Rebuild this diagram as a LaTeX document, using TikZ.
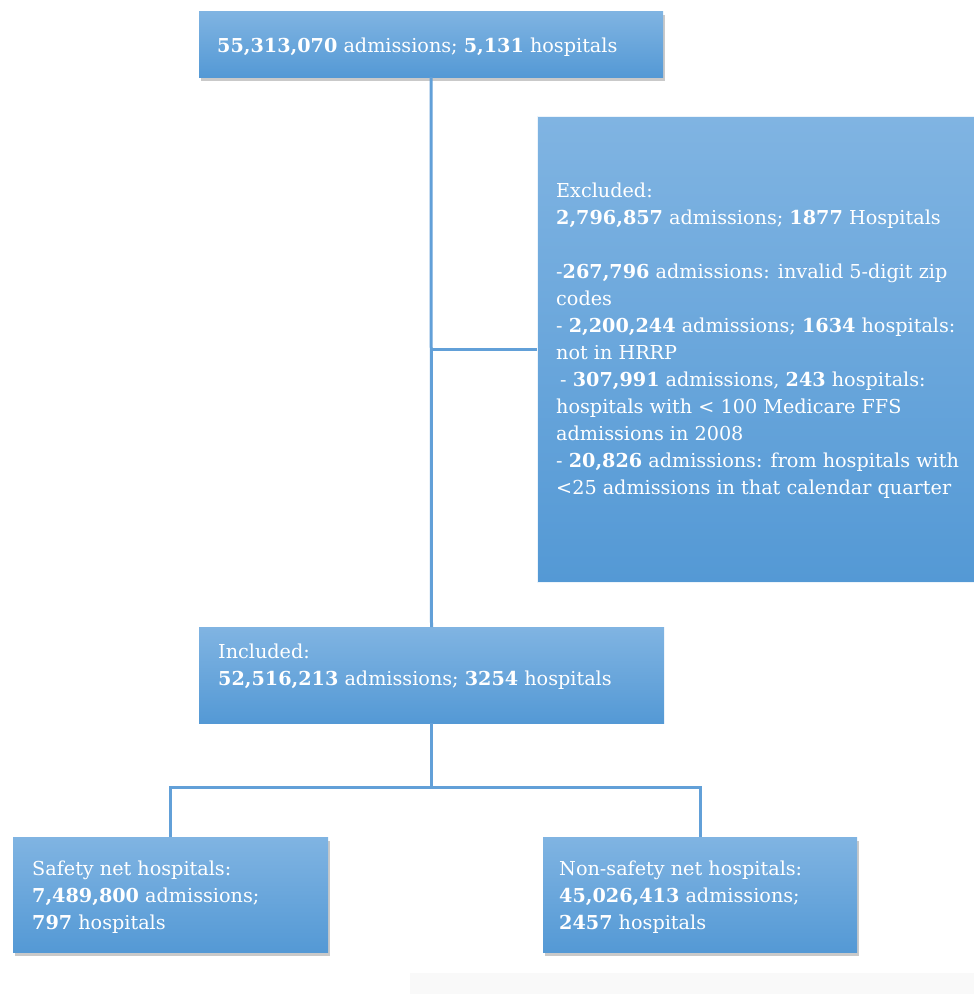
\documentclass[tikz,border=0pt]{standalone}
\usepackage{fontspec}
\setmainfont{DejaVu Serif}
\usetikzlibrary{shadows}
\definecolor{boxtop}{RGB}{128,180,226}
\definecolor{boxbot}{RGB}{84,153,213}
\definecolor{linec}{RGB}{98,160,216}
\begin{document}
\begin{tikzpicture}[x=1pt,y=-1pt,
  box/.style={draw=none, top color=boxtop, bottom color=boxbot, anchor=north west, inner sep=0pt, outer sep=0pt},
  shadowed/.style={drop shadow={shadow xshift=2pt, shadow yshift=-4pt, opacity=0.3, fill=black!70}},
  txt/.style={text=white, inner sep=0pt, anchor=base west, align=left, font=\fontsize{19.2}{27}\selectfont},
  conn/.style={draw=linec, line width=3pt}]
\useasboundingbox (0,0) rectangle (974,994);
\fill[gray!5] (410,973) rectangle (974,994);
% boxes
\node[box, shadowed, minimum width=464pt, minimum height=66pt] (top) at (199,11) {};
\node[box, minimum width=437pt, minimum height=466pt, draw=white!85!boxtop, line width=1pt] (exc) at (537,116) {};
\node[box, minimum width=465pt, minimum height=96pt] (inc) at (199,627) {};
\node[box, shadowed, minimum width=315pt, minimum height=115pt] (safe) at (13,837) {};
\node[box, shadowed, minimum width=314pt, minimum height=115pt] (nons) at (543,837) {};
% connectors
\draw[conn] (top.south) -- (inc.north);
\draw[conn] (top.south |- exc.west) -- (exc.west);
\draw[conn] (safe.north) -- ++(0,-50) -| (nons.north);
\coordinate (junc) at (inc.south |- 0,787);
\draw[conn] (inc.south) -- (junc);
% texts (anchor = baseline of last line)
\node[txt] (toptxt) at (217,52) {\textbf{55,313,070} admissions; \textbf{5,131} hospitals};
\node[txt] (exctxt) at (556,494) {Excluded:\\
\textbf{2,796,857} admissions; \textbf{1877} Hospitals\\[27pt]
-\textbf{267,796} admissions: invalid 5-digit zip\\
codes\\
- \textbf{2,200,244} admissions; \textbf{1634} hospitals:\\
not in HRRP\\
\hspace{4pt}- \textbf{307,991} admissions, \textbf{243} hospitals:\\
hospitals with < 100 Medicare FFS\\
admissions in 2008\\
- \textbf{20,826} admissions: from hospitals with\\
<25 admissions in that calendar quarter};
\node[txt] (inctxt) at (218,685) {Included:\\
\textbf{52,516,213} admissions; \textbf{3254} hospitals};
\node[txt] (safetxt) at (32,929) {Safety net hospitals:\\
\textbf{7,489,800} admissions;\\
\textbf{797} hospitals};
\node[txt] (nonstxt) at (559,929) {Non-safety net hospitals:\\
\textbf{45,026,413} admissions;\\
\textbf{2457} hospitals};
\end{tikzpicture}
\end{document}
